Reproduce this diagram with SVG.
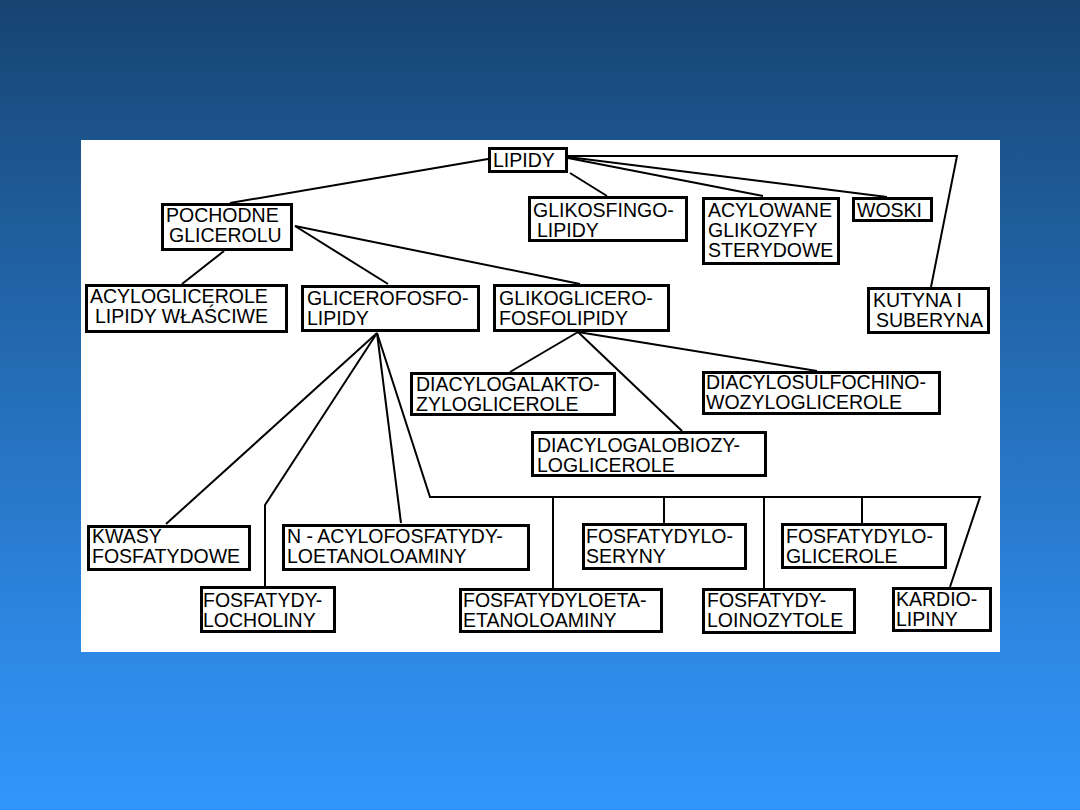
<svg xmlns="http://www.w3.org/2000/svg" width="1080" height="810" viewBox="0 0 1080 810">
<defs>
<linearGradient id="bg" x1="0" y1="0" x2="0" y2="1">
<stop offset="0" stop-color="#164370"/>
<stop offset="0.17" stop-color="#1c548c"/>
<stop offset="0.8" stop-color="#2e88e4"/>
<stop offset="1" stop-color="#3196fb"/>
</linearGradient>
<style>
.box{fill:#fff;stroke:#000;stroke-width:3}
.lbl{font-family:"Liberation Sans",Arial,sans-serif;font-size:19.5px;fill:#000}
.con{fill:none;stroke:#000;stroke-width:2;stroke-linejoin:miter}
</style>
</defs>
<rect x="0" y="0" width="1080" height="810" fill="url(#bg)"/>
<rect x="81" y="140" width="919" height="512" fill="#fff"/>
<g id="connectors" class="con">
<polyline points="488,159 230,203"/>
<polyline points="570,173 607,196"/>
<polyline points="568,158 763,196"/>
<polyline points="568,157 887,197"/>
<polyline points="568,156 957,156 931,287"/>
<polyline points="224,251 182,284"/>
<polyline points="295,226 388,284"/>
<polyline points="295,226 580,284"/>
<polyline points="377,333 166,524"/>
<polyline points="377,333 265,505 265,586"/>
<polyline points="377,333 401,523"/>
<polyline points="377,333 430,497 980,497 950,587"/>
<polyline points="553,497 553,588"/>
<polyline points="664,497 664,523"/>
<polyline points="764,497 764,588"/>
<polyline points="862,497 862,523"/>
<polyline points="578,332 510,372"/>
<polyline points="578,332 682,431"/>
<polyline points="578,332 817,371"/>
</g>
<g id="lipidy"><rect class="box" x="489.5" y="148.5" width="77" height="23"/><text class="lbl" x="493" y="167">LIPIDY</text></g>
<g id="pochodne"><rect class="box" x="162.5" y="204.5" width="129" height="45"/><text class="lbl" x="166" y="222">POCHODNE</text><text class="lbl" x="169" y="242">GLICEROLU</text></g>
<g id="glikosfingolipidy"><rect class="box" x="529.5" y="197.5" width="157" height="43"/><text class="lbl" x="533" y="217">GLIKOSFINGO-</text><text class="lbl" x="537" y="237">LIPIDY</text></g>
<g id="acylowane"><rect class="box" x="703.5" y="198.5" width="135" height="65"/><text class="lbl" x="708" y="217">ACYLOWANE</text><text class="lbl" x="708" y="237">GLIKOZYFY</text><text class="lbl" x="708" y="257">STERYDOWE</text></g>
<g id="woski"><rect class="box" x="853.5" y="198.5" width="78" height="22"/><text class="lbl" x="857" y="217">WOSKI</text></g>
<g id="kutyna"><rect class="box" x="868.5" y="288.5" width="120" height="44"/><text class="lbl" x="873" y="307">KUTYNA I</text><text class="lbl" x="876" y="327">SUBERYNA</text></g>
<g id="acyloglicerole"><rect class="box" x="86.5" y="285.5" width="200" height="46"/><text class="lbl" x="90" y="303">ACYLOGLICEROLE</text><text class="lbl" x="95" y="323">LIPIDY WŁAŚCIWE</text></g>
<g id="glicerofosfolipidy"><rect class="box" x="302.5" y="286.5" width="176" height="44"/><text class="lbl" x="307" y="305">GLICEROFOSFO-</text><text class="lbl" x="307" y="325">LIPIDY</text></g>
<g id="glikoglicerofosfolipidy"><rect class="box" x="494.5" y="285.5" width="174" height="45"/><text class="lbl" x="499" y="305">GLIKOGLICERO-</text><text class="lbl" x="499" y="325">FOSFOLIPIDY</text></g>
<g id="diacylogalakto"><rect class="box" x="411.5" y="373.5" width="203" height="41"/><text class="lbl" x="416" y="391">DIACYLOGALAKTO-</text><text class="lbl" x="416" y="411">ZYLOGLICEROLE</text></g>
<g id="diacylosulfochino"><rect class="box" x="703.5" y="372.5" width="236" height="41"/><text class="lbl" x="706" y="389">DIACYLOSULFOCHINO-</text><text class="lbl" x="706" y="409">WOZYLOGLICEROLE</text></g>
<g id="diacylogalobiozy"><rect class="box" x="532.5" y="432.5" width="233" height="43"/><text class="lbl" x="537" y="452">DIACYLOGALOBIOZY-</text><text class="lbl" x="537" y="472">LOGLICEROLE</text></g>
<g id="kwasy"><rect class="box" x="88.5" y="526.5" width="161" height="43"/><text class="lbl" x="92" y="543">KWASY</text><text class="lbl" x="92" y="563">FOSFATYDOWE</text></g>
<g id="nacylo"><rect class="box" x="283.5" y="525.5" width="245" height="44"/><text class="lbl" x="287" y="543">N - ACYLOFOSFATYDY-</text><text class="lbl" x="287" y="563">LOETANOLOAMINY</text></g>
<g id="seryny"><rect class="box" x="583.5" y="524.5" width="162" height="44"/><text class="lbl" x="586" y="543">FOSFATYDYLO-</text><text class="lbl" x="586" y="563">SERYNY</text></g>
<g id="glicerole"><rect class="box" x="782.5" y="524.5" width="163" height="43"/><text class="lbl" x="786" y="543">FOSFATYDYLO-</text><text class="lbl" x="786" y="563">GLICEROLE</text></g>
<g id="cholina"><rect class="box" x="201.5" y="587.5" width="133" height="44"/><text class="lbl" x="203" y="607">FOSFATYDY-</text><text class="lbl" x="203" y="627">LOCHOLINY</text></g>
<g id="etanoloamina"><rect class="box" x="460.5" y="589.5" width="201" height="42"/><text class="lbl" x="463" y="607">FOSFATYDYLOETA-</text><text class="lbl" x="463" y="627">ETANOLOAMINY</text></g>
<g id="inozytole"><rect class="box" x="703.5" y="589.5" width="151" height="43"/><text class="lbl" x="707" y="607">FOSFATYDY-</text><text class="lbl" x="707" y="627">LOINOZYTOLE</text></g>
<g id="kardiolipiny"><rect class="box" x="893.5" y="588.5" width="97" height="42"/><text class="lbl" x="896" y="606">KARDIO-</text><text class="lbl" x="896" y="626">LIPINY</text></g>
</svg>
